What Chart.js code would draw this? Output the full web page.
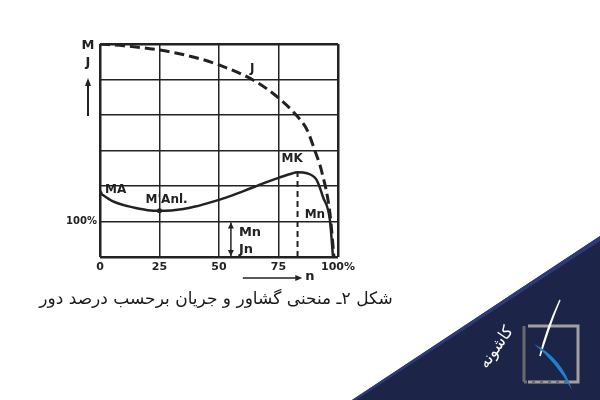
<!DOCTYPE html>
<html lang="fa">
<head>
<meta charset="utf-8">
<script src="https://cdn.jsdelivr.net/npm/chart.js@4"></script>
<style>
html, body { margin: 0; padding: 0; background: #fff; }
#wrap { position: relative; width: 600px; height: 400px; overflow: hidden; }
#grafica { position: absolute; left: 0; top: 0; }
.caption { position: absolute; left: 20px; top: 288px; width: 392px; text-align: center; direction: rtl;
  font-family: "DejaVu Sans", sans-serif; font-size: 17px; color: #1a1a1a; white-space: nowrap; }
.corner { position: absolute; left: 0; top: 0; }
</style>
</head>
<body>
<div id="wrap">
  <canvas id="grafica" width="600" height="400"></canvas>
  <div class="caption">شکل ۲ـ منحنی گشاور و جریان برحسب درصد دور</div>
  <svg class="corner" width="600" height="400">
    <polygon points="600,236 600,400 352,400" fill="#1c2448"/>
    <polygon points="600,236 600,241 356,400 352,400" fill="#2c3b78"/>
    <path d="M528,326 L578,326 L578,382 L528,382" fill="none" stroke="#a0a0a0" stroke-width="3"/>
    <path d="M524,326 L524,382" stroke="#6a6a6a" stroke-width="3"/>
    <path d="M524,382 L570,382" stroke="#6a6a6a" stroke-width="3" stroke-dasharray="3,5"/>
    <path d="M560,300 Q552,318 540,356 Q546,330 560,300 Z" fill="#fff" stroke="#fff" stroke-width="1.5"/>
    <path d="M534,344 Q562,358 572,390 Q556,362 534,344 Z" fill="#1e80d2"/>
    <text x="0" y="0" fill="#fff" font-family="DejaVu Sans" font-size="16"
      transform="translate(500,350) rotate(-55)" text-anchor="middle">کاشونه</text>
  </svg>
</div>
<script>
// ejes
const nTicks = [0, 25, 50, 75, 100];
const nLabels = ['0', '25', '50', '75', '100%'];

// curva de par M (en unidades de 100%)
const mN =   [0, 5, 10, 15, 20, 25, 30, 35, 40, 45, 50, 55, 60, 65, 70, 75, 80, 83, 87, 91, 93.7, 96.6, 97.9];
const mVal = [1.80, 1.58, 1.46, 1.38, 1.32, 1.30, 1.31, 1.35, 1.42, 1.51, 1.61, 1.72, 1.85, 1.98, 2.11, 2.23, 2.34, 2.39, 2.36, 2.17, 1.69, 1.04, 0];

// curva de corriente J
const jN =   [0, 10, 25, 40, 50, 65, 75, 82.8, 87, 90, 93.3, 96.6, 98.3];
const jVal = [6.0, 5.95, 5.83, 5.62, 5.41, 4.96, 4.48, 3.97, 3.58, 3.05, 2.37, 1.24, 0];

// punto Mk y puntos marcados
const mkN = [83, 83];
const mkVal = [0, 2.39];
const puntosN = [0, 25];
const puntosVal = [1.80, 1.30];

// nominal Mn / Jn
const nomN = 55;
const nomVal = 1;

const tinta = '#222';

function pares(xs, ys) {
  return xs.map((x, i) => ({ x: x, y: ys[i] }));
}

const etiquetas = {
  id: 'etiquetas',
  afterDraw(chart) {
    const ctx = chart.ctx;
    const x = chart.scales.x, y = chart.scales.y;
    const a = chart.chartArea;
    ctx.save();
    ctx.fillStyle = tinta;
    ctx.strokeStyle = tinta;
    ctx.font = 'bold 12px "DejaVu Sans"';
    ctx.textBaseline = 'middle';
    ctx.textAlign = 'left';

    // etiquetas de las curvas
    ctx.fillText('MA', x.getPixelForValue(0) + 5, y.getPixelForValue(mVal[0]) - 3);
    ctx.fillText("M'Anl.", x.getPixelForValue(25) - 14, y.getPixelForValue(puntosVal[1]) - 11);
    ctx.fillText('MK', x.getPixelForValue(mkN[1]) - 16, y.getPixelForValue(mkVal[1]) - 13);
    ctx.fillText('Mn', x.getPixelForValue(86), y.getPixelForValue(1) - 7);
    ctx.fillText('J', x.getPixelForValue(63), y.getPixelForValue(5.3));

    // flecha doble nominal
    const ax = x.getPixelForValue(nomN);
    const y0 = y.getPixelForValue(0), y1 = y.getPixelForValue(nomVal);
    ctx.lineWidth = 1.5;
    ctx.beginPath();
    ctx.moveTo(ax, y0 - 1); ctx.lineTo(ax, y1 + 1);
    ctx.stroke();
    ctx.beginPath();
    ctx.moveTo(ax, y1 + 1); ctx.lineTo(ax - 3, y1 + 7); ctx.lineTo(ax + 3, y1 + 7); ctx.closePath();
    ctx.moveTo(ax, y0 - 1); ctx.lineTo(ax - 3, y0 - 7); ctx.lineTo(ax + 3, y0 - 7); ctx.closePath();
    ctx.fill();
    ctx.font = 'bold 13px "DejaVu Sans"';
    ctx.fillText('Mn', ax + 8, y1 + 11);
    ctx.fillText('Jn', ax + 8, y0 - 7);

    // titulo del eje y
    ctx.font = 'bold 13px "DejaVu Sans"';
    ctx.textAlign = 'center';
    ctx.fillText('M', a.left - 12, a.top + 2);
    ctx.fillText('J', a.left - 12, a.top + 19);
    ctx.lineWidth = 2;
    ctx.beginPath();
    ctx.moveTo(a.left - 12, a.top + 72); ctx.lineTo(a.left - 12, a.top + 40);
    ctx.stroke();
    ctx.beginPath();
    ctx.moveTo(a.left - 12, a.top + 34); ctx.lineTo(a.left - 15, a.top + 42); ctx.lineTo(a.left - 9, a.top + 42); ctx.closePath();
    ctx.fill();

    // titulo del eje x
    const fy = a.bottom + 21;
    ctx.lineWidth = 1.5;
    ctx.beginPath();
    ctx.moveTo(x.getPixelForValue(60), fy); ctx.lineTo(x.getPixelForValue(83), fy);
    ctx.stroke();
    ctx.beginPath();
    const fx = x.getPixelForValue(85);
    ctx.moveTo(fx, fy); ctx.lineTo(fx - 7, fy - 3); ctx.lineTo(fx - 7, fy + 3); ctx.closePath();
    ctx.fill();
    ctx.textAlign = 'left';
    ctx.fillText('n', fx + 3, fy - 1);
    ctx.restore();
  }
};

const ctx = document.getElementById('grafica').getContext('2d');
new Chart(ctx, {
  type: 'line',
  data: {
    datasets: [{
      label: 'M',
      data: pares(mN, mVal),
      borderColor: tinta,
      borderWidth: 2.5,
      pointRadius: 0,
      cubicInterpolationMode: 'monotone'
    }, {
      label: 'J',
      data: pares(jN, jVal),
      borderColor: tinta,
      borderWidth: 3,
      borderDash: [10, 5],
      pointRadius: 0,
      cubicInterpolationMode: 'monotone'
    }, {
      label: 'Mk',
      data: pares(mkN, mkVal),
      borderColor: tinta,
      borderWidth: 2,
      borderDash: [6, 4],
      pointRadius: 0
    }, {
      label: 'puntos',
      data: pares(puntosN, puntosVal),
      showLine: false,
      pointRadius: 2.5,
      pointBackgroundColor: tinta,
      pointBorderWidth: 0
    }]
  },
  options: {
    animation: false,
    responsive: false,
    layout: { padding: { left: 60, top: 44, right: 262, bottom: 123 } },
    plugins: { legend: { display: false }, tooltip: { enabled: false } },
    scales: {
      x: {
        type: 'linear',
        min: 0, max: 100,
        afterBuildTicks: (s) => { s.ticks = nTicks.map(v => ({ value: v })); },
        afterFit: (s) => { s.height = 20; },
        ticks: {
          callback: (v) => nLabels[nTicks.indexOf(v)],
          color: tinta,
          font: { family: 'DejaVu Sans', weight: 'bold', size: 11 },
          padding: 4,
          maxRotation: 0
        },
        grid: {
          color: tinta,
          lineWidth: (c) => (c.tick && (c.tick.value === 0 || c.tick.value === 100)) ? 2.5 : 1.5,
          drawTicks: false
        },
        border: { display: false }
      },
      y: {
        min: 0, max: 6,
        afterFit: (s) => { s.width = 40; },
        ticks: {
          stepSize: 1,
          callback: (v) => v === 1 ? '100%' : '',
          color: tinta,
          font: { family: 'DejaVu Sans', weight: 'bold', size: 10 },
          padding: 3
        },
        grid: {
          color: tinta,
          lineWidth: (c) => (c.tick && (c.tick.value === 0 || c.tick.value === 6)) ? 2.5 : 1.5,
          drawTicks: false
        },
        border: { display: false }
      }
    }
  },
  plugins: [etiquetas]
});
</script>
</body>
</html>
